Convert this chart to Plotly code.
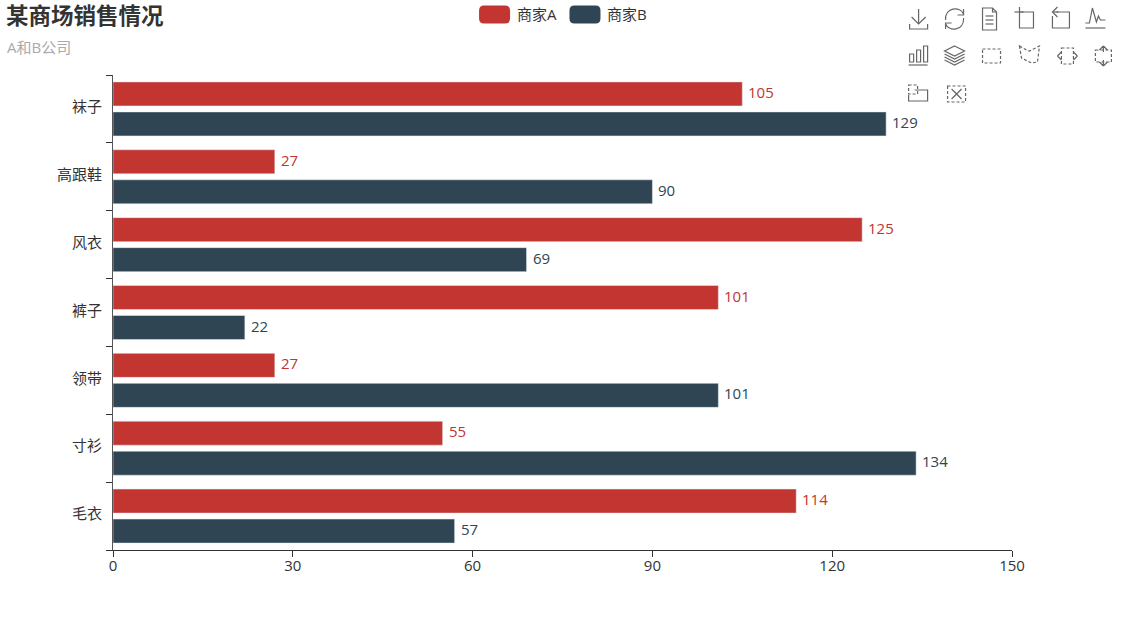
import plotly.graph_objects as go

categories = ["毛衣", "寸衫", "领带", "裤子", "风衣", "高跟鞋", "袜子"]
series_a = [114, 55, 27, 101, 125, 27, 105]
series_b = [57, 134, 101, 22, 69, 90, 129]
x_ticks = [0, 30, 60, 90, 120, 150]
name_a, name_b = "商家A", "商家B"
title_text = "某商场销售情况"
subtitle_text = "A和B公司"
RED, NAVY, TXT = "#c23531", "#2f4554", "#333333"
W, H = 1125, 625
FONT = "'Open Sans', 'Noto Sans CJK SC', sans-serif"

L, R, T, B = 112.5, 112.5, 75, 75
bar_w, gap = 24 / 67.857, 6 / 67.857

fig = go.Figure()
fig.add_bar(y=categories, x=series_a, name=name_a, orientation="h", marker_color=RED,
            width=bar_w, offset=gap / 2, showlegend=False)
fig.add_bar(y=categories, x=series_b, name=name_b, orientation="h", marker_color=NAVY,
            width=bar_w, offset=-gap / 2 - bar_w, showlegend=False)

shapes = []


def pixel_shape(cx, cy, path, color="#666666", fill=None, lw=1.2, dash=None):
    """Path is written in screen-style px offsets (y down) round the anchor (cx, cy)."""
    out = []
    toks = path.split()
    for t in toks:
        if "," in t:
            a, b = t.split(",")
            out.append(f"{float(a)},{-float(b)}")
        else:
            out.append(t)
    s = dict(type="path", xref="paper", yref="paper", xsizemode="pixel", ysizemode="pixel",
             xanchor=(cx - L) / (W - L - R), yanchor=(H - B - cy) / (H - T - B),
             path=" ".join(out), line=dict(color=color, width=lw, dash=dash or "solid"))
    if fill:
        s["fillcolor"] = fill
    shapes.append(s)


def pill(x0, x1, y0, y1, color):
    r = 5
    cx, cy = (x0 + x1) / 2, (y0 + y1) / 2
    hw, hh = (x1 - x0) / 2, (y1 - y0) / 2
    p = (f"M {-hw+r},{-hh} L {hw-r},{-hh} Q {hw},{-hh} {hw},{-hh+r} L {hw},{hh-r} Q {hw},{hh} {hw-r},{hh} "
         f"L {-hw+r},{hh} Q {-hw},{hh} {-hw},{hh-r} L {-hw},{-hh+r} Q {-hw},{-hh} {-hw+r},{-hh} Z")
    pixel_shape(cx, cy, p, color=color, fill=color, lw=0)


pill(479, 510, 5.5, 23.5, RED)
pill(569.5, 600.5, 5.5, 23.5, NAVY)

icons = {
    (919, 19): ["M 0,-10 L 0,5", "M -7,-2 L 0,5 L 7,-2", "M -9,5 L -9,10 L 9,10 L 9,5"],
    (955, 19): ["M -9,1 C -10,-12 6,-13 9,-5", "M 9,-1 C 10,12 -6,13 -9,5", "M 9,-10 L 9,-4 L 3,-4", "M -9,10 L -9,4 L -3,4"],
    (990, 19): ["M -7,-11 L 3,-11 L 7,-7 L 7,11 L -7,11 Z", "M 3,-11 L 3,-7 L 7,-7", "M -4,-3 L 4,-3", "M -4,1 L 4,1", "M -4,5 L 4,5"],
    (1025, 19): ["M -4,-7 L 9,-7 L 9,9 L -5,9 L -5,-12", "M -10,-7 L -1,-7"],
    (1061, 19): ["M -4,-7 L 9,-7 L 9,9 L -8,9 L -8,-3", "M -3,-12 L -8,-7 L -3,-2", "M -8,-7 L -2,-7"],
    (1096, 19): ["M -10,9 L 10,9", "M -10,4 L -6,4 L -3,-11 L 1,3 L 3,-3 L 5,1 L 10,1"],
    (918, 55): ["M -9,10 L 10,10", "M -8,-1 L -4,-1 L -4,7 L -8,7 Z", "M -1,-5 L 3,-5 L 3,7 L -1,7 Z", "M 6,-9 L 10,-9 L 10,7 L 6,7 Z"],
    (955, 55): ["M 0,-9 L 10,-4 L 0,1 L -10,-4 Z", "M -10,-1 L 0,4 L 10,-1", "M -10,2 L 0,7 L 10,2", "M -10,5 L 0,10 L 10,5"],
}
dashed = {
    (992, 56): ["M -9,-7 L 9,-7 L 9,7 L -9,7 Z"],
    (1030, 55): ["M -10,-9 L -3,-5 L 0,-4 L 10,-9 L 8,7 L 2,8 L -8,3 Z"],
    (1068, 56): ["M -6,-8 L 6,-8 L 6,8 L -6,8 Z"],
    (1104, 56): ["M -8,-6 L 8,-6 L 8,6 L -8,6 Z"],
    (915, 90): ["M -6,-5 L 3,-5 L 3,4 L -6,4 Z"],
    (957, 94): ["M -9,-8 L 9,-8 L 9,8 L -9,8 Z"],
}
for (cx, cy), paths in icons.items():
    for p in paths:
        pixel_shape(cx, cy, p)
for (cx, cy), paths in dashed.items():
    for p in paths:
        pixel_shape(cx, cy, p, dash="3px,2px")
# arrows and solid details of the dashed tools
pixel_shape(1068, 56, "M -10,0 L -6,-4 M -10,0 L -6,4")
pixel_shape(1068, 56, "M 10,0 L 6,-4 M 10,0 L 6,4")
pixel_shape(1104, 56, "M 0,-10 L -4,-6 M 0,-10 L 4,-6 M 0,-10 L 0,-4")
pixel_shape(1104, 56, "M 0,10 L -4,6 M 0,10 L 4,6 M 0,10 L 0,4")
pixel_shape(918, 94, "M -3,-4 L 10,-4 L 10,7 L -9,7 L -9,1")
pixel_shape(957, 94, "M -5,-5 L 5,5")
pixel_shape(957, 94, "M 5,-5 L -5,5")

annotations = [
    dict(text=f"<b>{title_text}</b>", x=3, y=15, font=dict(size=22.5, color="#333333")),
    dict(text=subtitle_text, x=4, y=47, font=dict(size=15, color="#aaaaaa")),
    dict(text=name_a, x=515, y=14, font=dict(size=15, color=TXT)),
    dict(text=name_b, x=605, y=14, font=dict(size=15, color=TXT)),
]
for a in annotations:
    a.update(xref="paper", yref="paper", xanchor="left", yanchor="middle", showarrow=False)
    a["x"] = (a["x"] - L) / (W - L - R)
    a["y"] = (H - B - a["y"]) / (H - T - B)

# value labels follow the data through the axes and sit at the end of each bar
for values, color, shift in ((series_a, RED, 17), (series_b, NAVY, -13)):
    for cat, v in zip(categories, values):
        annotations.append(dict(text=str(v), x=v, y=cat, xref="x", yref="y", xanchor="left",
                                yanchor="middle", xshift=4, yshift=shift, showarrow=False,
                                font=dict(size=15, color=color)))

axis_line = dict(showline=True, linewidth=1, ticks="outside", ticklen=6,
                 tickcolor=TXT, tickwidth=1, showgrid=False, zeroline=False,
                 tickfont=dict(size=15, color=TXT))
fig.update_layout(
    width=W, height=H, autosize=False,
    margin=dict(l=L, r=R, t=T, b=B, pad=0),
    barmode="overlay", paper_bgcolor="white", plot_bgcolor="white",
    font=dict(family=FONT, color=TXT),
    shapes=shapes, annotations=annotations, showlegend=False,
    xaxis=dict(range=[0, 150], tickmode="array", tickvals=x_ticks, linecolor=TXT,
               ticklabelstandoff=-4, **axis_line),
    yaxis=dict(type="category", categoryorder="array", categoryarray=categories,
               range=[-0.5, 6.5], tickson="boundaries", ticklabelstandoff=7, ticklabelshift=-2,
               linecolor="#555555", **axis_line),
)
fig.write_html("out.html", config=dict(displayModeBar=False),
               post_script="document.body.style.margin='0';document.documentElement.style.overflow='hidden';")
